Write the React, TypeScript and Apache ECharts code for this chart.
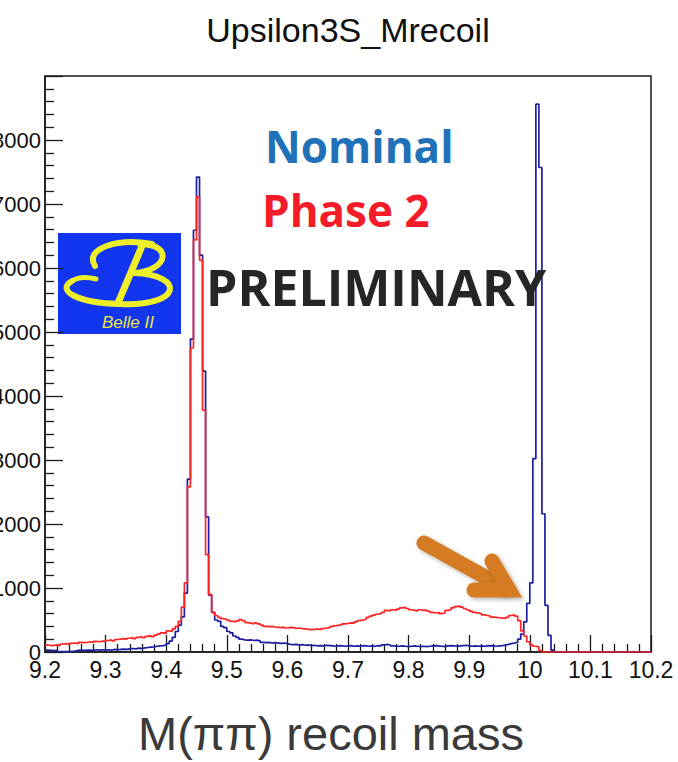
import React, { useEffect, useRef } from "react";
import * as echarts from "echarts";

// Histogram binning: 200 bins of 0.005 GeV from 9.2 to 10.2
const BIN_START = 9.2;
const BIN_WIDTH = 0.005;

const TITLE = "Upsilon3S_Mrecoil";
const X_TITLE = "M(\u03c0\u03c0) recoil mass";
const LEGEND_NOMINAL = "Nominal";
const LEGEND_PHASE2 = "Phase 2";
const STAMP = "PRELIMINARY";

// Nominal (blue) bin contents
const nominal = [
  30, 25, 20, 25, 8, 5, 8, 5, 10, 15,
  25, 30, 25, 30, 30, 25, 35, 30, 35, 30,
  35, 30, 40, 35, 40, 45, 40, 50, 55, 50,
  60, 55, 65, 70, 75, 80, 90, 95, 100, 110,
  130, 170, 230, 320, 420, 550, 920, 2700, 4890, 6590,
  7420, 6200, 4390, 2110, 890, 620, 500, 480, 400, 380,
  320, 300, 250, 230, 200, 190, 185, 190, 180, 185,
  175, 150, 145, 150, 140, 145, 140, 135, 140, 130,
  120, 115, 120, 110, 115, 105, 110, 100, 105, 95,
  100, 95, 105, 100, 95, 90, 100, 95, 90, 95,
  100, 90, 95, 90, 100, 95, 90, 95, 90, 100,
  95, 110, 120, 110, 95, 90, 90, 95, 90, 85,
  90, 95, 90, 85, 90, 85, 90, 95, 100, 95,
  90, 85, 95, 100, 95, 90, 95, 100, 105, 95,
  90, 95, 90, 95, 90, 95, 100, 95, 90, 95,
  100, 110, 120, 130, 140, 150, 200, 280, 470, 760,
  1080, 3020, 8560, 7570, 2160, 730, 260, 30, 0, 0,
  0, 0, 0, 0, 0, 0, 0, 0, 0, 0,
  0, 0, 0, 0, 0, 0, 0, 0, 0, 0,
  0, 0, 0, 0, 0, 0, 0, 0, 0, 0,
];

// Phase 2 (red) bin contents
const phase2 = [
  110, 100, 105, 110, 100, 125, 130, 120, 135, 140,
  130, 150, 145, 150, 160, 150, 165, 160, 170, 165,
  180, 190, 175, 195, 200, 210, 200, 215, 225, 210,
  230, 240, 225, 245, 255, 240, 265, 280, 300, 290,
  330, 320, 360, 400, 480, 700, 1080, 2580, 4750, 6440,
  7110, 6120, 3780, 1520, 900, 620, 570, 540, 520, 510,
  495, 480, 470, 485, 505, 490, 460, 450, 440, 455,
  440, 420, 400, 395, 400, 390, 385, 380, 390, 375,
  385, 380, 370, 375, 365, 360, 355, 350, 355, 360,
  350, 365, 375, 380, 395, 410, 420, 425, 440, 445,
  455, 450, 470, 490, 500, 510, 540, 560, 575, 590,
  600, 620, 650, 640, 660, 650, 670, 690, 700, 680,
  660, 650, 640, 660, 650, 655, 640, 620, 610, 620,
  600, 610, 650, 660, 690, 710, 720, 700, 680, 660,
  640, 620, 610, 600, 580, 570, 560, 545, 540, 535,
  530, 525, 540, 570, 580, 560, 490, 330, 250, 160,
  110, 90, 80, 20, 0, 0, 0, 0, 0, 0,
  0, 0, 0, 0, 0, 0, 0, 0, 0, 0,
  0, 0, 0, 0, 0, 0, 0, 0, 0, 0,
  0, 0, 0, 0, 0, 0, 0, 0, 0, 0,
];

function toSteps(values: number[]) {
  const pts = values.map((v, i) => [+(BIN_START + i * BIN_WIDTH).toFixed(3), v]);
  pts.push([+(BIN_START + values.length * BIN_WIDTH).toFixed(3), values[values.length - 1]]);
  return pts;
}

const AXIS_COLOR = "#1a1a1a";
const YELLOW = "#eeee2a";

export default function App() {
  const ref = useRef<HTMLDivElement>(null);
  useEffect(() => {
    if (!ref.current) return;
    const chart = echarts.init(ref.current, undefined, { renderer: "svg" });
    const bStroke = { stroke: YELLOW, lineWidth: 6, fill: "none", lineCap: "round" };
    const option: any = {
      animation: false,
      backgroundColor: "#ffffff",
      grid: {
        left: 45,
        right: 27,
        top: 76,
        bottom: 110,
        show: true,
        containLabel: false,
        outerBoundsMode: "none",
        borderColor: AXIS_COLOR,
        borderWidth: 1.5,
      },
      xAxis: {
        type: "value",
        min: 9.2,
        max: 10.2,
        interval: 0.1,
        axisLine: { show: true, onZero: false, lineStyle: { color: AXIS_COLOR, width: 1.5 } },
        axisTick: { show: true, inside: true, length: 17, lineStyle: { color: AXIS_COLOR, width: 1.3 } },
        minorTick: { show: true, splitNumber: 5, length: 8, lineStyle: { color: AXIS_COLOR, width: 1.3 } },
        splitLine: { show: false },
        axisLabel: {
          color: "#111",
          fontSize: 23,
          fontFamily: "Liberation Sans",
          margin: 6,
          formatter: (v: number) => String(+v.toFixed(1)),
        },
      },
      yAxis: {
        type: "value",
        min: 0,
        max: 9000,
        interval: 1000,
        axisLine: { show: true, lineStyle: { color: AXIS_COLOR, width: 1.5 } },
        axisTick: { show: true, inside: true, length: 18, lineStyle: { color: AXIS_COLOR, width: 1.3 } },
        minorTick: { show: true, splitNumber: 5, length: 9, lineStyle: { color: AXIS_COLOR, width: 1.3 } },
        splitLine: { show: false },
        axisLabel: {
          color: "#111",
          fontSize: 22,
          fontFamily: "Liberation Sans",
          margin: 4,
          showMaxLabel: false,
          formatter: (v: number) => String(Math.round(v)),
        },
      },
      series: [
        {
          name: LEGEND_NOMINAL,
          type: "line",
          step: "end",
          data: toSteps(nominal),
          symbol: "none",
          lineStyle: { color: "#1e1ea0", width: 1.7 },
          z: 3,
        },
        {
          name: LEGEND_PHASE2,
          type: "line",
          step: "end",
          data: toSteps(phase2),
          symbol: "none",
          lineStyle: { color: "#ff2424", width: 1.7 },
          z: 4,
        },
      ],
      graphic: [
        {
          type: "text",
          x: 348,
          y: 30,
          z: 100,
          style: {
            text: TITLE,
            fontSize: 34,
            fontFamily: "Liberation Sans",
            fill: "#111",
            textAlign: "center",
            textVerticalAlign: "middle",
          },
        },
        {
          type: "text",
          x: 331,
          y: 733,
          z: 100,
          style: {
            text: X_TITLE,
            fontSize: 47,
            fontFamily: "Liberation Sans",
            fill: "#3a3a3a",
            textAlign: "center",
            textVerticalAlign: "middle",
          },
        },
        {
          type: "text",
          x: 265,
          y: 146,
          z: 100,
          style: {
            text: LEGEND_NOMINAL,
            fontSize: 44,
            fontWeight: "bold",
            fontFamily: "Open Sans",
            fill: "#2171b8",
            textAlign: "left",
            textVerticalAlign: "middle",
          },
        },
        {
          type: "text",
          x: 262,
          y: 210,
          z: 100,
          style: {
            text: LEGEND_PHASE2,
            fontSize: 44,
            fontWeight: "bold",
            fontFamily: "Open Sans",
            fill: "#f41c28",
            textAlign: "left",
            textVerticalAlign: "middle",
          },
        },
        {
          type: "text",
          x: 206,
          y: 287,
          z: 100,
          style: {
            text: STAMP,
            fontSize: 50,
            fontWeight: "bold",
            fontFamily: "Open Sans",
            fill: "#262626",
            textAlign: "left",
            textVerticalAlign: "middle",
          },
        },
        // Belle II logo
        {
          type: "group",
          z: 100,
          children: [
            { type: "rect", shape: { x: 58, y: 233, width: 123, height: 101 }, style: { fill: "#1236ef" } },
            {
              type: "bezierCurve",
              shape: { x1: 95, y1: 266, cpx1: 84, cpy1: 248, cpx2: 118, cpy2: 238, x2: 152, y2: 244 },
              style: bStroke,
            },
            {
              type: "bezierCurve",
              shape: { x1: 140, y1: 244, cpx1: 172, cpy1: 244, cpx2: 170, cpy2: 270, x2: 134, y2: 273 },
              style: bStroke,
            },
            {
              type: "line",
              shape: { x1: 142, y1: 246, x2: 118, y2: 303 },
              style: { stroke: YELLOW, lineWidth: 7, lineCap: "round" },
            },
            {
              type: "bezierCurve",
              shape: { x1: 134, y1: 273, cpx1: 186, cpy1: 275, cpx2: 182, cpy2: 307, x2: 120, y2: 304 },
              style: bStroke,
            },
            {
              type: "bezierCurve",
              shape: { x1: 120, y1: 304, cpx1: 76, cpy1: 303, cpx2: 56, cpy2: 290, x2: 72, y2: 281 },
              style: bStroke,
            },
            {
              type: "bezierCurve",
              shape: { x1: 72, y1: 281, cpx1: 78, cpy1: 277, cpx2: 88, cpy2: 277, x2: 96, y2: 279 },
              style: { stroke: YELLOW, lineWidth: 5, fill: "none", lineCap: "round" },
            },
            {
              type: "text",
              x: 128,
              y: 322,
              style: {
                text: "Belle II",
                fontSize: 17,
                fontStyle: "italic",
                fontFamily: "Liberation Sans",
                fill: "#e8e840",
                textAlign: "center",
                textVerticalAlign: "middle",
              },
            },
          ],
        },
        // Orange arrow
        {
          type: "group",
          z: 100,
          children: [
            {
              type: "polyline",
              shape: { points: [[424, 543], [505, 588]] },
              style: {
                stroke: "#d57b22",
                lineWidth: 15,
                lineCap: "round",
                fill: "none",
                shadowBlur: 4,
                shadowColor: "rgba(0,0,0,0.3)",
                shadowOffsetX: 2,
                shadowOffsetY: 2,
              },
            },
            {
              type: "polyline",
              shape: { points: [[492, 561], [509, 590], [474, 590]] },
              style: {
                stroke: "#d57b22",
                lineWidth: 15,
                lineCap: "round",
                lineJoin: "miter",
                fill: "none",
                shadowBlur: 4,
                shadowColor: "rgba(0,0,0,0.3)",
                shadowOffsetX: 2,
                shadowOffsetY: 2,
              },
            },
          ],
        },
      ],
    };
    chart.setOption(option);
    return () => chart.dispose();
  }, []);
  return (
    <div
      ref={ref}
      style={{ position: "fixed", left: 0, top: 0, width: 678, height: 762, background: "#fff" }}
    />
  );
}
